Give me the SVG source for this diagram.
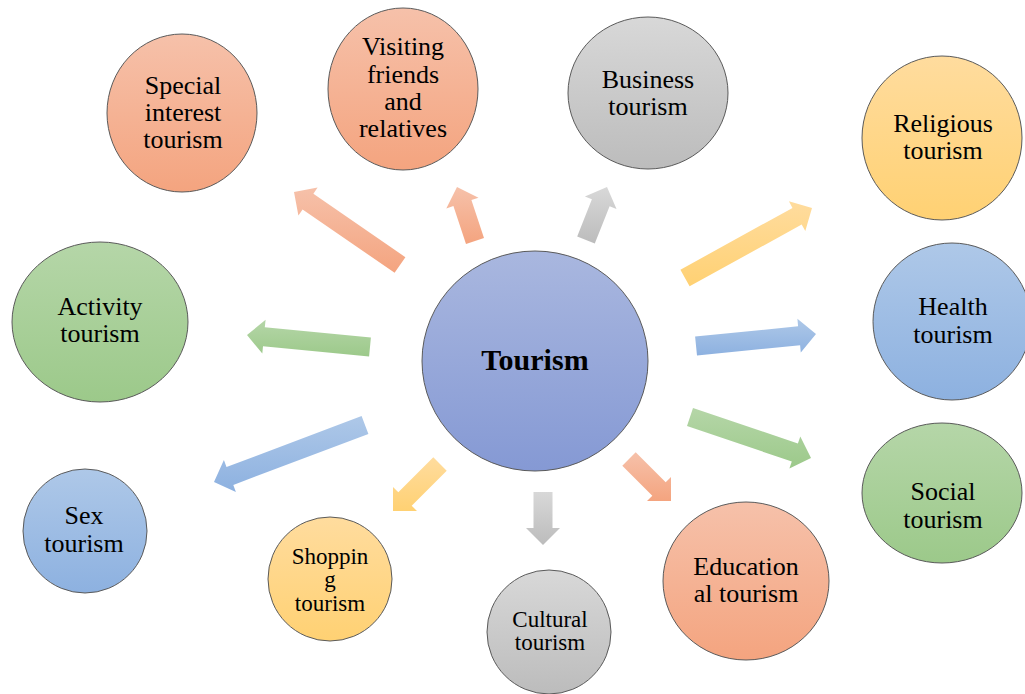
<svg xmlns="http://www.w3.org/2000/svg" width="1025" height="694" viewBox="0 0 1025 694">
  <defs>
    <linearGradient id="gOrange" x1="0" y1="0" x2="0" y2="1">
      <stop offset="0" stop-color="#F6C1AA"/>
      <stop offset="1" stop-color="#F4A47F"/>
    </linearGradient>
    <linearGradient id="gGray" x1="0" y1="0" x2="0" y2="1">
      <stop offset="0" stop-color="#D8D8D8"/>
      <stop offset="1" stop-color="#BCBCBC"/>
    </linearGradient>
    <linearGradient id="gYellow" x1="0" y1="0" x2="0" y2="1">
      <stop offset="0" stop-color="#FFDC9E"/>
      <stop offset="1" stop-color="#FFD173"/>
    </linearGradient>
    <linearGradient id="gBlue" x1="0" y1="0" x2="0" y2="1">
      <stop offset="0" stop-color="#AEC8E8"/>
      <stop offset="1" stop-color="#8DB1E0"/>
    </linearGradient>
    <linearGradient id="gGreen" x1="0" y1="0" x2="0" y2="1">
      <stop offset="0" stop-color="#B5D6A8"/>
      <stop offset="1" stop-color="#9CC98A"/>
    </linearGradient>
    <linearGradient id="gCore" x1="0" y1="0" x2="0" y2="1">
      <stop offset="0" stop-color="#A9B7DF"/>
      <stop offset="1" stop-color="#8599D4"/>
    </linearGradient>
  </defs>
  <style>
    .node { stroke: #5a5a5a; stroke-width: 1; }
    .lbl { font-family: "Liberation Serif", "Times New Roman", serif; font-size: 26px; fill: #000; text-anchor: middle; }
    .small { font-size: 23px; }
    .core { font-size: 30px; font-weight: bold; }
    .orange { fill: url(#gOrange); }
    .gray { fill: url(#gGray); }
    .yellow { fill: url(#gYellow); }
    .blue { fill: url(#gBlue); }
    .green { fill: url(#gGreen); }
  </style>

  <rect width="1025" height="694" fill="#ffffff"/>

  <!-- block arrows radiating from the centre -->
  <g id="connectors">
    <polygon class="orange" points="405.4,257.2 313.4,193.8 317.6,187.6 294,192 298.4,215.6 302.6,209.4 394.6,272.8"/>
    <polygon class="orange" points="484.0,238.0 471.4,200.1 478.5,197.8 457,187 446.3,208.5 453.4,206.1 466.0,244.0"/>
    <polygon class="gray" points="594.8,243.5 609.6,206.3 616.5,209.1 607,187 584.9,196.5 591.9,199.3 577.2,236.5"/>
    <polygon class="yellow" points="689.6,286.3 801.7,224.5 805.3,231.1 812,208 788.9,201.3 792.5,207.9 680.4,269.7"/>
    <polygon class="blue" points="697.0,355.5 800.1,345.2 800.8,352.6 816,334 797.4,318.8 798.1,326.3 695.1,336.6"/>
    <polygon class="green" points="687.0,426.0 791.8,461.5 789.4,468.6 811,458 800.3,436.4 797.9,443.5 693.0,408.0"/>
    <polygon class="orange" points="622.3,465.7 652.3,495.7 647.0,501.0 671,501 671.0,477.0 665.7,482.3 635.7,452.3"/>
    <polygon class="gray" points="533.5,492 533.5,528 526,528 543,545 560,528 552.5,528 552.5,492"/>
    <polygon class="yellow" points="433.3,457.3 398.3,492.3 393.0,487.0 393,511 417.0,511.0 411.7,505.7 446.7,470.7"/>
    <polygon class="blue" points="361.6,416.1 226.5,467.1 223.9,460.1 214,482 235.9,491.9 233.3,484.9 368.4,433.9"/>
    <polygon class="green" points="370.9,337.5 264.8,327.2 265.6,319.8 247,335 262.3,353.6 263.0,346.2 369.1,356.5"/>
  </g>

  <g id="tourism">
    <ellipse class="node" cx="535" cy="361" rx="113" ry="110" fill="url(#gCore)"/>
    <text class="lbl core" x="535" y="370">Tourism</text>
  </g>

  <g id="special-interest">
    <ellipse class="node orange" cx="182" cy="113" rx="75" ry="79"/>
    <text class="lbl" x="183" y="94">Special</text>
    <text class="lbl" x="183" y="121">interest</text>
    <text class="lbl" x="183" y="148">tourism</text>
  </g>

  <g id="visiting-friends">
    <ellipse class="node orange" cx="403" cy="89" rx="75" ry="81"/>
    <text class="lbl" x="403" y="55">Visiting</text>
    <text class="lbl" x="403" y="83">friends</text>
    <text class="lbl" x="403" y="110">and</text>
    <text class="lbl" x="403" y="137">relatives</text>
  </g>

  <g id="business">
    <ellipse class="node gray" cx="648" cy="93" rx="80" ry="76"/>
    <text class="lbl" x="648" y="88">Business</text>
    <text class="lbl" x="648" y="115">tourism</text>
  </g>

  <g id="religious">
    <ellipse class="node yellow" cx="942" cy="138" rx="80" ry="82"/>
    <text class="lbl" x="943" y="132">Religious</text>
    <text class="lbl" x="943" y="159">tourism</text>
  </g>

  <g id="health">
    <ellipse class="node blue" cx="952" cy="321.5" rx="79" ry="78.5"/>
    <text class="lbl" x="953" y="315">Health</text>
    <text class="lbl" x="953" y="343">tourism</text>
  </g>

  <g id="social">
    <ellipse class="node green" cx="942" cy="493" rx="80" ry="70"/>
    <text class="lbl" x="943" y="500">Social</text>
    <text class="lbl" x="943" y="528">tourism</text>
  </g>

  <g id="educational">
    <ellipse class="node orange" cx="746" cy="581" rx="83" ry="79"/>
    <text class="lbl" x="746" y="575">Education</text>
    <text class="lbl" x="746" y="602">al tourism</text>
  </g>

  <g id="cultural">
    <ellipse class="node gray" cx="549" cy="632" rx="62" ry="62"/>
    <text class="lbl small" x="550" y="627">Cultural</text>
    <text class="lbl small" x="550" y="650">tourism</text>
  </g>

  <g id="shopping">
    <ellipse class="node yellow" cx="330" cy="579" rx="62" ry="62"/>
    <text class="lbl small" x="330" y="564">Shoppin</text>
    <text class="lbl small" x="330" y="587">g</text>
    <text class="lbl small" x="330" y="611">tourism</text>
  </g>

  <g id="sex">
    <ellipse class="node blue" cx="85" cy="531" rx="62" ry="62"/>
    <text class="lbl" x="84" y="524">Sex</text>
    <text class="lbl" x="84" y="552">tourism</text>
  </g>

  <g id="activity">
    <ellipse class="node green" cx="100" cy="322" rx="88" ry="80"/>
    <text class="lbl" x="100" y="315">Activity</text>
    <text class="lbl" x="100" y="342">tourism</text>
  </g>
</svg>
